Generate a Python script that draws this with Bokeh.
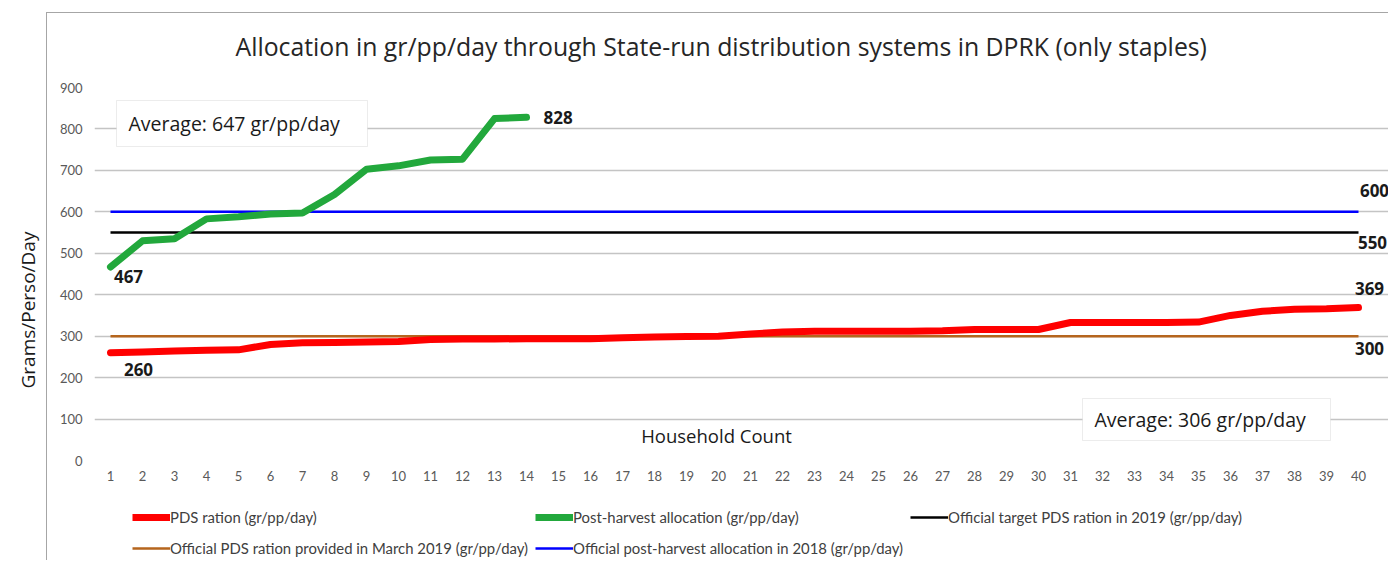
from bokeh.plotting import figure
from bokeh.layouts import column
from bokeh.models import (Range1d, BoxAnnotation, Label, Legend, LegendItem,
                          FixedTicker, Title, InlineStyleSheet)
from bokeh.core.properties import value
from bokeh.embed import file_html
from bokeh.resources import INLINE

# ---------------- data ----------------
households = list(range(1, 41))
pds_ration = [260, 262, 264, 266, 267, 280, 284, 285, 286, 287,
              292, 293, 293, 294, 294, 294, 296, 298, 299, 300,
              305, 310, 312, 312, 312, 312, 313, 316, 316, 316,
              333, 333, 333, 333, 334, 350, 360, 365, 366, 369]
post_harvest = [467, 530, 535, 583, 588, 595, 597, 642, 703, 711,
                725, 727, 825, 828]
target_2019 = 550
provided_march_2019 = 300
post_harvest_2018 = 600
avg_post_harvest = 647
avg_pds = 306
y_ticks = [0, 100, 200, 300, 400, 500, 600, 700, 800, 900]

title_text = "Allocation in gr/pp/day through State-run distribution systems in DPRK (only staples)"
y_title = "Grams/Perso/Day"
x_title = "Household Count"
legend_labels = ["PDS ration (gr/pp/day)",
                 "Post-harvest allocation (gr/pp/day)",
                 "Official target PDS ration in 2019 (gr/pp/day)",
                 "Official PDS ration provided in March 2019 (gr/pp/day)",
                 "Official post-harvest allocation in 2018 (gr/pp/day)"]

RED = "#FF0000"
GREEN = "#22A83C"
BLACK = "#000000"
BROWN = "#B5651D"
BLUE = "#0000FF"
FONT = "Open Sans"
SMALL = "Lato"

W = 1388
MH, LH = 500, 60                   # main figure / legend strip heights
FL, FT, FB = 94, 87, 460           # frame left / top / bottom (px)
px_per_unit = 32.0
x_end = 0.5 + (W - FL) / px_per_unit

p = figure(width=W, height=MH,
           x_range=Range1d(0.5, x_end),
           y_range=Range1d(0, 900),
           output_backend="svg", toolbar_location=None,
           min_border_left=FL, min_border_right=0,
           min_border_top=FT, min_border_bottom=MH - FB)
p.outline_line_color = None
p.background_fill_color = "white"
p.border_fill_color = "white"

p.xgrid.grid_line_color = None
p.ygrid.grid_line_color = "#C4C4C4"
p.ygrid.grid_line_width = 1.5

p.xaxis.ticker = FixedTicker(ticks=households)
p.yaxis.ticker = FixedTicker(ticks=y_ticks)
for ax in (p.xaxis[0], p.yaxis[0]):
    ax.axis_line_color = None
    ax.major_tick_line_color = None
    ax.minor_tick_line_color = None
    ax.major_tick_out = 0
    ax.major_tick_in = 0
    ax.minor_tick_out = 0
    ax.major_label_text_font = SMALL
    ax.major_label_text_font_size = "13px"
    ax.major_label_text_color = "#595959"
p.yaxis.major_label_standoff = 12
p.xaxis.major_label_standoff = 10

# title
p.title.text = title_text
p.title.text_font = FONT
p.title.text_font_size = "24.8px"
p.title.text_font_style = "normal"
p.title.text_color = "#262626"
p.title.align = "left"
p.title.offset = 235 - FL
p.title.standoff = 49

# y-axis title as a side title so it can sit off-centre
p.add_layout(Title(text=y_title, align="left", offset=FB - 388, standoff=28,
                   vertical_align="top", text_font=FONT, text_font_size="19px",
                   text_font_style="normal", text_color="#1a1a1a"), "left")

n = len(households)
r_target = p.line(households, [target_2019] * n, line_color=BLACK, line_width=2.5)
r_march = p.line(households, [provided_march_2019] * n, line_color=BROWN, line_width=2.5)
r_2018 = p.line(households, [post_harvest_2018] * n, line_color=BLUE, line_width=2.5)
r_pds = p.line(households, pds_ration, line_color=RED, line_width=7,
               line_cap="round", line_join="round")
r_ph = p.line(households[:len(post_harvest)], post_harvest, line_color=GREEN,
              line_width=7, line_cap="round", line_join="round")

# data labels
def dlabel(x, y, txt, dx, dy, align="center"):
    p.text(x=[x], y=[y], text=[txt], x_offset=dx, y_offset=dy,
           text_font=value(FONT), text_font_style="bold", text_font_size="17px",
           text_color="#1a1a1a", text_align=align, text_baseline="middle")

dlabel(households[0], post_harvest[0], str(post_harvest[0]), 18, 10)
dlabel(households[len(post_harvest) - 1], post_harvest[-1], str(post_harvest[-1]), 17, 0, "left")
dlabel(households[0], pds_ration[0], str(pds_ration[0]), 28, 17)
dlabel(households[-1], pds_ration[-1], str(pds_ration[-1]), 11, -19)
dlabel(households[-1], post_harvest_2018, str(post_harvest_2018), 16, -21)
dlabel(households[-1], target_2019, str(target_2019), 14, 10)
dlabel(households[-1], provided_march_2019, str(provided_march_2019), 11, 12)

# average boxes (frame-relative screen px)
def avg_box(left, right, top, bottom, txt):
    p.add_layout(BoxAnnotation(left=left - FL, right=right - FL,
                               top=FB - top, bottom=FB - bottom,
                               left_units="screen", right_units="screen",
                               top_units="screen", bottom_units="screen",
                               fill_color="white", fill_alpha=1,
                               line_color="#BFBFBF", line_width=1))
    p.add_layout(Label(x=left + 12 - FL, y=FB - (top + bottom) / 2,
                       x_units="screen", y_units="screen", text=txt,
                       text_font=FONT, text_font_size="19.5px", text_color="#1a1a1a",
                       text_baseline="middle", text_align="left"))

avg_box(116, 367, 100, 146, f"Average: {avg_post_harvest} gr/pp/day")
avg_box(1082, 1330, 398, 440, f"Average: {avg_pds} gr/pp/day")

p.add_layout(Label(x=716 - FL, y=FB - 435, x_units="screen", y_units="screen",
                   text=x_title, text_font=FONT, text_font_size="18.5px",
                   text_color="#1a1a1a", text_align="center", text_baseline="middle"))

# ---------------- legend strip ----------------
# a separate strip below the chart; it re-uses the same series, which fall
# outside its (0..1) ranges so that only the legend keys show
lg = figure(width=W, height=LH, x_range=Range1d(0, 1), y_range=Range1d(0, 1),
            output_backend="svg", toolbar_location=None,
            x_axis_type=None, y_axis_type=None,
            min_border_left=0, min_border_right=0,
            min_border_top=0, min_border_bottom=0)
lg.outline_line_color = None
lg.background_fill_color = "white"
lg.border_fill_color = "white"
k_pds = lg.line(households, pds_ration, line_color=RED, line_width=7)
k_ph = lg.line(households[:len(post_harvest)], post_harvest, line_color=GREEN, line_width=7)
k_target = lg.line(households, [target_2019] * n, line_color=BLACK, line_width=2.5)
k_march = lg.line(households, [provided_march_2019] * n, line_color=BROWN, line_width=2.5)
k_2018 = lg.line(households, [post_harvest_2018] * n, line_color=BLUE, line_width=2.5)

legend = Legend(items=[LegendItem(label=lab, renderers=[r]) for lab, r in
                       zip(legend_labels, [k_pds, k_ph, k_target, k_march, k_2018])],
                orientation="horizontal", ncols=3, location=(38, 0),
                glyph_width=38, glyph_height=24, label_height=24, label_standoff=0,
                spacing=7, padding=0, margin=0,
                label_text_font=SMALL, label_text_font_size="14.9px",
                label_text_color="#404040",
                background_fill_alpha=0, border_line_color=None)
lg.add_layout(legend, "center")

layout = column(p, lg, spacing=0)
# outer chart-area border (left and top edges)
layout.stylesheets = [InlineStyleSheet(css=(
    ":host::after { content: ''; position: absolute; left: 46px; top: 12px; "
    "right: 0; bottom: 0; border-left: 1px solid #A6A6A6; "
    "border-top: 1px solid #A6A6A6; pointer-events: none; }"))]

open("out.html", "w").write(file_html(layout, INLINE))
